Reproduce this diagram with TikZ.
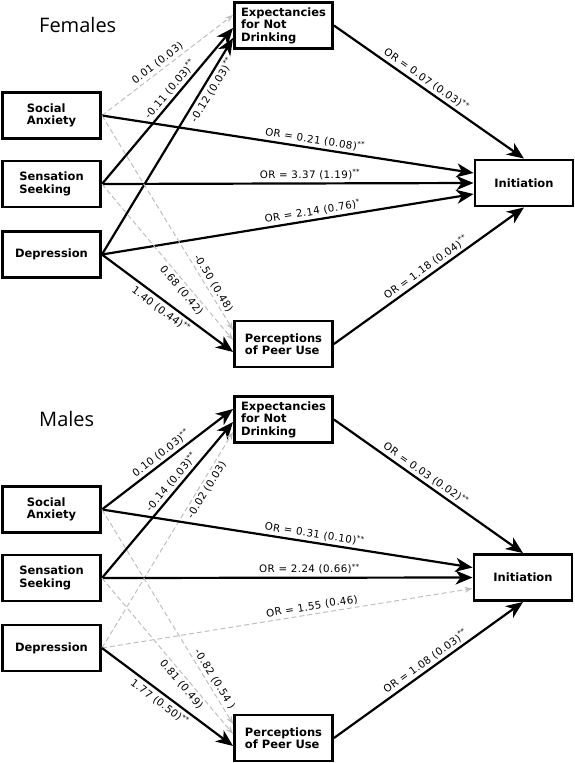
\documentclass[tikz,border=0pt]{standalone}
\usepackage{fontspec}
\setmainfont{DejaVu Sans}
\newfontfamily\titlefont{Open Sans}
\newfontfamily\labfont[LetterSpace=4]{DejaVu Sans}
\usepackage{tikz}
\usetikzlibrary{arrows.meta,positioning}

\tikzset{
  box/.style={draw,line width=2.9pt,minimum width=98pt,minimum height=46pt,
    align=left,inner sep=1pt,font=\bfseries\fontsize{11.5}{12.5}\selectfont},
  ttl/.style={anchor=base west,inner sep=0pt,font=\titlefont\fontsize{20}{24}\selectfont},
  sig/.style={line width=2.2pt,-{Stealth[length=17pt,width=14pt,inset=5pt]}},
  ns/.style={line width=1pt,gray!50,dash pattern=on 5pt off 3pt,
    -{Stealth[length=8pt,width=6pt]}},
  lab/.style={sloped,inner sep=2.5pt,text=black,font=\labfont\fontsize{10.3}{12}\selectfont}
}

\begin{document}
\begin{tikzpicture}[x=1pt,y=-1pt]
  \useasboundingbox (0,0) rectangle (575,763);

  % females
  \node[ttl] at (39,32) {Females};
  \node[box] (fexp) at (283.5,25.5) {Expectancies\\for Not\\Drinking};
  \node[box] (fsoc) at (51.5,115.5) {Social\\Anxiety};
  \node[box] (fsen) at (51.5,184) {Sensation\\Seeking};
  \node[box] (fdep) at (51.5,254.5) {Depression};
  \node[box] (fper) at (283.5,344) {Perceptions\\of Peer Use};
  \node[box] (fini) at (524,183) {Initiation};

  \draw
  (fsoc.east) edge[ns] node[lab,above,pos=.46]{0.01 (0.03)} ([yshift=10.5pt]fexp.west)
  (fsen.east) edge[sig] node[lab,above,pos=.57]{-0.11 (0.03)\textsuperscript{**}} ([yshift=-2.5pt]fexp.west)
  (fdep.east) edge[sig] node[lab,below,pos=.78]{-0.12 (0.03)\textsuperscript{**}} ([yshift=-12.5pt]fexp.west)
  (fsoc.east) edge[sig] node[lab,above,pos=.57]{OR = 0.21 (0.08)\textsuperscript{**}} ([yshift=10pt]fini.west)
  (fsen.east) edge[sig] node[lab,above,pos=.56]{OR = 3.37 (1.19)\textsuperscript{**}} (fini.west)
  (fdep.east) edge[sig] node[lab,above,pos=.57]{OR = 2.14 (0.76)\textsuperscript{*}} ([yshift=-11pt]fini.west)
  (fsoc.east) edge[ns] node[lab,above,pos=.80]{-0.50 (0.48)} ([yshift=14pt]fper.west)
  (fsen.east) edge[ns] node[lab,below,pos=.65]{0.68 (0.42)} ([yshift=4pt]fper.west)
  (fdep.east) edge[sig] node[lab,below,pos=.49]{1.40 (0.44)\textsuperscript{**}} ([yshift=-8pt]fper.west)
  (fexp.east) edge[sig] node[lab,above,pos=.46]{OR = 0.07 (0.03)\textsuperscript{**}} (fini.north)
  (fper.east) edge[sig] node[lab,above,pos=.51]{OR = 1.18 (0.04)\textsuperscript{**}} (fini.south);

  % males
  \node[ttl] at (39,426) {Males};
  \node[box] (mexp) at (283.5,419.5) {Expectancies\\for Not\\Drinking};
  \node[box] (msoc) at (51.5,509.5) {Social\\Anxiety};
  \node[box] (msen) at (51.5,578) {Sensation\\Seeking};
  \node[box] (mdep) at (51.5,648) {Depression};
  \node[box] (mper) at (283.5,738) {Perceptions\\of Peer Use};
  \node[box] (mini) at (523,577.5) {Initiation};

  \draw
  (msoc.east) edge[sig] node[lab,above,pos=.49]{0.10 (0.03)\textsuperscript{**}} ([yshift=10.5pt]mexp.west)
  (msen.east) edge[sig] node[lab,above,pos=.58]{-0.14 (0.03)\textsuperscript{**}} ([yshift=-2.5pt]mexp.west)
  (mdep.east) edge[ns] node[lab,below,pos=.75]{-0.02 (0.03)} ([yshift=-12.5pt]mexp.west)
  (msoc.east) edge[sig] node[lab,above,pos=.57]{OR = 0.31 (0.10)\textsuperscript{**}} ([yshift=10pt]mini.west)
  (msen.east) edge[sig] node[lab,above,pos=.56]{OR = 2.24 (0.66)\textsuperscript{**}} (mini.west)
  (mdep.east) edge[ns] node[lab,above,pos=.57]{OR = 1.55 (0.46)} ([yshift=-11pt]mini.west)
  (msoc.east) edge[ns] node[lab,above,pos=.81]{-0.82 (0.54 )} ([yshift=14pt]mper.west)
  (msen.east) edge[ns] node[lab,below,pos=.65]{0.81 (0.49)} ([yshift=4pt]mper.west)
  (mdep.east) edge[sig] node[lab,below,pos=.48]{1.77 (0.50)\textsuperscript{**}} ([yshift=-8pt]mper.west)
  (mexp.east) edge[sig] node[lab,above,pos=.46]{OR = 0.03 (0.02)\textsuperscript{**}} (mini.north)
  (mper.east) edge[sig] node[lab,above,pos=.51]{OR = 1.08 (0.03)\textsuperscript{**}} (mini.south);
\end{tikzpicture}
\end{document}
